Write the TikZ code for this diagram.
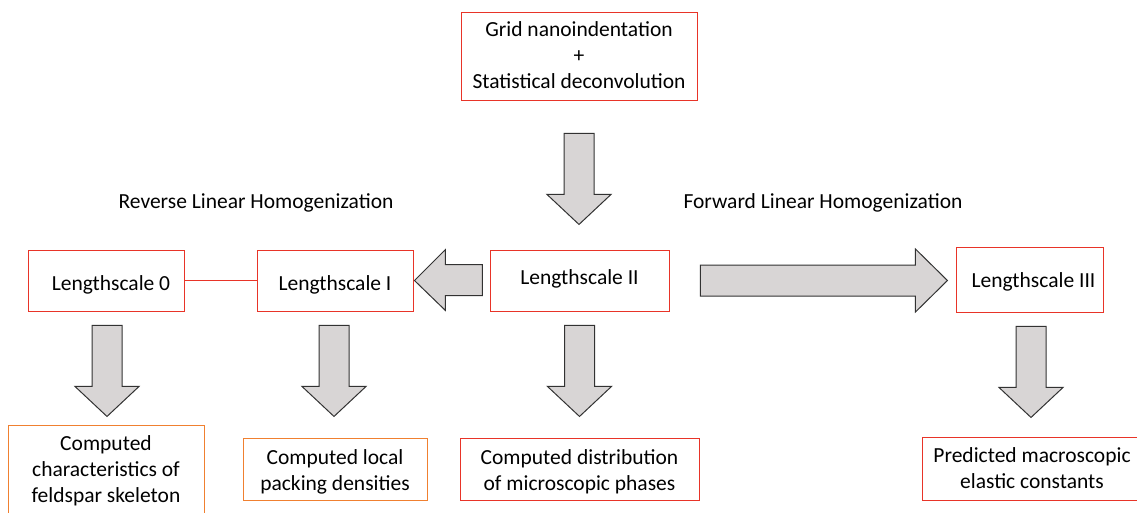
\documentclass[tikz,border=0pt]{standalone}
\usepackage{fontspec}
\setmainfont{Carlito}
\usetikzlibrary{calc}
\definecolor{boxred}{RGB}{232,52,40}
\definecolor{boxorange}{RGB}{240,128,48}
\definecolor{arrowgray}{RGB}{216,213,213}
\definecolor{arrowline}{RGB}{50,50,50}
% text lowered inside its box, box size kept
\newcommand{\lowtext}[2]{\raisebox{-#1}[\height][\depth]{\begin{tabular}{@{}c@{}}#2\end{tabular}}}
\tikzset{
  scalebox/.style={draw=boxred, line width=0.9pt, align=center, inner sep=0pt},
  resultbox/.style={scalebox, draw=boxorange},
  blockarrow/.style={fill=arrowgray, draw=arrowline, line width=1pt, line join=miter},
  pics/downarr/.style={code={
    \draw[blockarrow] (-15,0) -- (15,0) -- (15,61) -- (32,61) -- (0,91) -- (-32,61) -- (-15,61) -- cycle;
  }}
}

\begin{document}
\begin{tikzpicture}[x=1pt, y=-1pt, font=\fontsize{21.5}{26}\selectfont]
  \useasboundingbox (0,0) rectangle (1137,512);
  \clip (0,0) rectangle (1137,512);
  % top box
  \node[scalebox, minimum width=236, minimum height=88] (grid) at (579,56)
    {\lowtext{1pt}{Grid nanoindentation\\+\\Statistical deconvolution}};
  % lengthscales
  \node[scalebox, minimum width=156, minimum height=61] (ls0) at (106,280.5) {\lowtext{5pt}{\hspace*{10pt}Lengthscale 0}};
  \node[scalebox, minimum width=156, minimum height=61] (ls1) at (335,280.5) {\lowtext{5pt}{Lengthscale I}};
  \node[scalebox, minimum width=179, minimum height=61] (ls2) at (579.5,280.5) {\lowtext{-1pt}{Lengthscale II}};
  \node[scalebox, minimum width=147, minimum height=65] (ls3) at (1029.5,279.5) {\lowtext{3pt}{\hspace*{8pt}Lengthscale III}};
  % titles
  \node (rev) at (256,203) {Reverse Linear Homogenization};
  \node (fwd) at (823,203) {Forward Linear Homogenization};
  % results
  \node[resultbox, minimum width=196, minimum height=88] (resA) at (106,469)
    {\lowtext{2pt}{Computed\\characteristics of\\feldspar skeleton}};
  \node[resultbox, minimum width=184, minimum height=62] (resB) at (335,469)
    {\lowtext{3pt}{Computed local\\packing densities}};
  \node[scalebox, minimum width=239, minimum height=62] (resC) at (579.5,469)
    {\lowtext{3pt}{Computed distribution\\of microscopic phases}};
  \node[scalebox, minimum width=220, minimum height=63] (resD) at (1032,468.5)
    {\lowtext{2pt}{Predicted macroscopic\\elastic constants}};
  % link
  \draw[boxred, line width=0.9pt] (ls0) -- (ls1);
  % block arrows down
  \pic at ($(grid.south)+(0,33)$) {downarr};
  \pic at ($(ls0.south)+(1,14)$) {downarr};
  \pic at ($(ls1.south)+(-1,14)$) {downarr};
  \pic at ($(ls2.south)+(0,14)$) {downarr};
  \pic at ($(ls3.south)+(1.5,14)$) {downarr};
  % block arrows sideways
  \draw[blockarrow] ($(ls1.east)+(1,0)$) -- ++(31,-31) -- ++(0,15) -- ++(37,0)
    -- ++(0,31) -- ++(-37,0) -- ++(0,15) -- cycle;
  \draw[blockarrow] ($(ls2.east)+(31,-15.5)$) -- ++(215,0) -- ++(0,-16) -- ++(32,31.5)
    -- ++(-32,31.5) -- ++(0,-16) -- ++(-215,0) -- cycle;
\end{tikzpicture}
\end{document}
